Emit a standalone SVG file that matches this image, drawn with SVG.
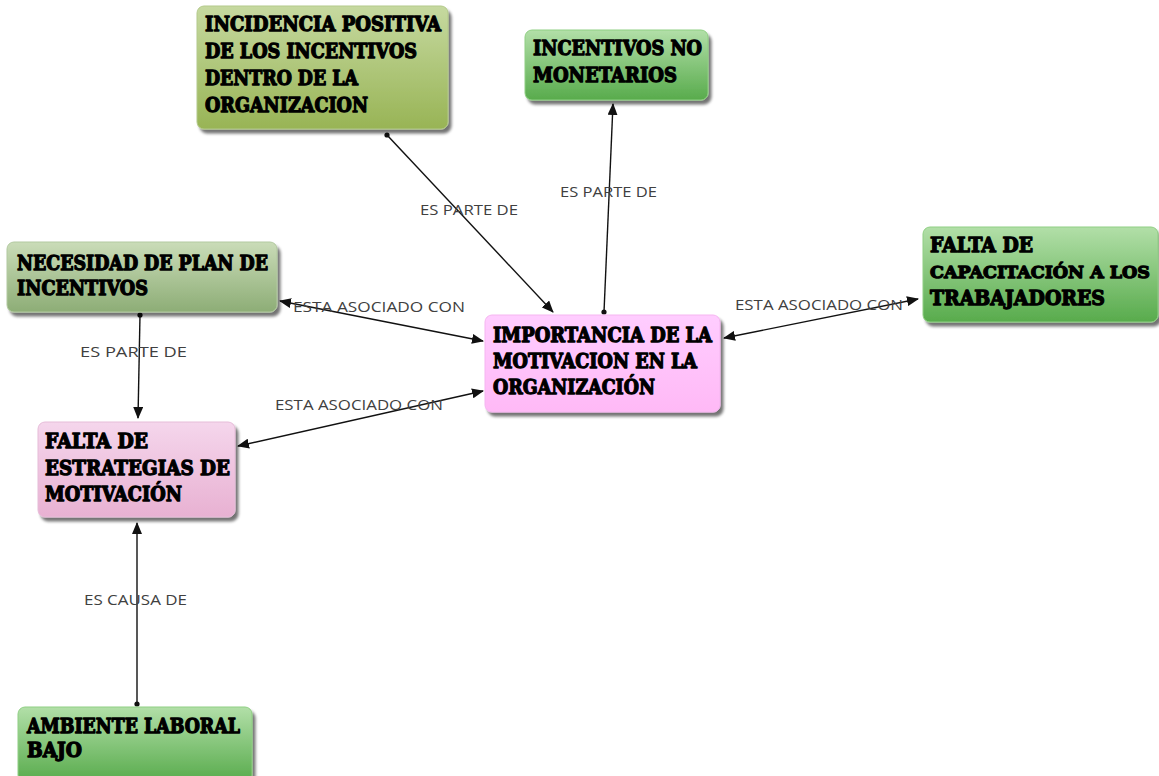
<svg xmlns="http://www.w3.org/2000/svg" width="1159" height="776" viewBox="0 0 1159 776">
  <style>
    .box { stroke-width: 1; }
    .t { font-family: "DejaVu Serif", "Liberation Serif", serif; font-weight: bold; font-size: 20px; fill: #000; stroke: #000; stroke-width: 1.3; stroke-linejoin: round; }
    .t.narrow { font-size: 17.5px; }
    .lbl { font-family: "Open Sans", "DejaVu Sans", sans-serif; font-size: 14px; fill: #404040; }
    .con { stroke: #111; stroke-width: 1.4; fill: none; }
  </style>
  <defs>
    <linearGradient id="gOlive" x1="0" y1="0" x2="0" y2="1">
      <stop offset="0" stop-color="#c6d9a0"/>
      <stop offset="1" stop-color="#98b455"/>
    </linearGradient>
    <linearGradient id="gGreen" x1="0" y1="0" x2="0" y2="1">
      <stop offset="0" stop-color="#b2dfa8"/>
      <stop offset="1" stop-color="#58ab4c"/>
    </linearGradient>
    <linearGradient id="gSage" x1="0" y1="0" x2="0" y2="1">
      <stop offset="0" stop-color="#cadcb8"/>
      <stop offset="1" stop-color="#8dad76"/>
    </linearGradient>
    <linearGradient id="gPink" x1="0" y1="0" x2="0" y2="1">
      <stop offset="0" stop-color="#ffcdff"/>
      <stop offset="1" stop-color="#ffb9f6"/>
    </linearGradient>
    <linearGradient id="gRose" x1="0" y1="0" x2="0" y2="1">
      <stop offset="0" stop-color="#f5d6ec"/>
      <stop offset="1" stop-color="#e8b1d2"/>
    </linearGradient>
    <filter id="shadow" x="-10%" y="-10%" width="130%" height="140%">
      <feGaussianBlur in="SourceAlpha" stdDeviation="1.5"/>
      <feOffset dx="3" dy="4" result="b"/>
      <feComponentTransfer><feFuncA type="linear" slope="0.55"/></feComponentTransfer>
      <feMerge><feMergeNode/><feMergeNode in="SourceGraphic"/></feMerge>
    </filter>
    <marker id="arrow" viewBox="0 0 12 10" refX="11" refY="5" markerWidth="12" markerHeight="10" markerUnits="userSpaceOnUse" orient="auto-start-reverse">
      <path d="M0,0 L12,5 L0,10 Z" fill="#111"/>
    </marker>
    <marker id="dot" viewBox="0 0 6 6" refX="3" refY="3" markerWidth="6" markerHeight="6" markerUnits="userSpaceOnUse">
      <circle cx="3" cy="3" r="2.6" fill="#111"/>
    </marker>
  </defs>

  <rect width="1159" height="776" fill="#ffffff"/>

  <!-- connectors -->
  <g id="connectors">
    <line class="con" x1="387" y1="135" x2="553" y2="312" marker-start="url(#dot)" marker-end="url(#arrow)"/>
    <line class="con" x1="604" y1="312" x2="613" y2="104" marker-start="url(#dot)" marker-end="url(#arrow)"/>
    <line class="con" x1="280" y1="301" x2="483" y2="341" marker-start="url(#arrow)" marker-end="url(#arrow)"/>
    <line class="con" x1="238" y1="446" x2="483" y2="391" marker-start="url(#arrow)" marker-end="url(#arrow)"/>
    <line class="con" x1="724" y1="338" x2="918" y2="299" marker-start="url(#arrow)" marker-end="url(#arrow)"/>
    <line class="con" x1="140" y1="315" x2="138" y2="418" marker-start="url(#dot)" marker-end="url(#arrow)"/>
    <line class="con" x1="137" y1="704" x2="137" y2="523" marker-start="url(#dot)" marker-end="url(#arrow)"/>

    <text class="lbl" x="420" y="215" textLength="98" lengthAdjust="spacingAndGlyphs">ES PARTE DE</text>
    <text class="lbl" x="560" y="197" textLength="97" lengthAdjust="spacingAndGlyphs">ES PARTE DE</text>
    <text class="lbl" x="293" y="312" textLength="172" lengthAdjust="spacingAndGlyphs">ESTA ASOCIADO CON</text>
    <text class="lbl" x="275" y="410" textLength="168" lengthAdjust="spacingAndGlyphs">ESTA ASOCIADO CON</text>
    <text class="lbl" x="735" y="310" textLength="168" lengthAdjust="spacingAndGlyphs">ESTA ASOCIADO CON</text>
    <text class="lbl" x="80" y="357" textLength="107" lengthAdjust="spacingAndGlyphs">ES PARTE DE</text>
    <text class="lbl" x="84" y="605" textLength="103" lengthAdjust="spacingAndGlyphs">ES CAUSA DE</text>
  </g>

  <g id="incidencia">
    <rect class="box" x="197" y="6" width="251" height="123" rx="7" fill="url(#gOlive)" stroke="#b3c98a" filter="url(#shadow)"/>
    <text class="t" x="205" y="31" textLength="236" lengthAdjust="spacingAndGlyphs">INCIDENCIA POSITIVA</text>
    <text class="t" x="205" y="58" textLength="212" lengthAdjust="spacingAndGlyphs">DE LOS INCENTIVOS</text>
    <text class="t" x="205" y="85" textLength="153" lengthAdjust="spacingAndGlyphs">DENTRO DE LA</text>
    <text class="t" x="205" y="112" textLength="163" lengthAdjust="spacingAndGlyphs">ORGANIZACION</text>
  </g>

  <g id="incentivos-no-monetarios">
    <rect class="box" x="525" y="30" width="183" height="70" rx="7" fill="url(#gGreen)" stroke="#8fcf83" filter="url(#shadow)"/>
    <text class="t" x="533" y="55" textLength="169" lengthAdjust="spacingAndGlyphs">INCENTIVOS NO</text>
    <text class="t" x="533" y="82" textLength="144" lengthAdjust="spacingAndGlyphs">MONETARIOS</text>
  </g>

  <g id="necesidad">
    <rect class="box" x="7" y="242" width="270" height="70" rx="7" fill="url(#gSage)" stroke="#b2c9a0" filter="url(#shadow)"/>
    <text class="t" x="17" y="270" textLength="251" lengthAdjust="spacingAndGlyphs">NECESIDAD DE PLAN DE</text>
    <text class="t" x="17" y="295" textLength="131" lengthAdjust="spacingAndGlyphs">INCENTIVOS</text>
  </g>

  <g id="importancia">
    <rect class="box" x="485" y="315" width="235" height="97" rx="7" fill="url(#gPink)" stroke="#f5b6f0" filter="url(#shadow)"/>
    <text class="t" x="493" y="342" textLength="219" lengthAdjust="spacingAndGlyphs">IMPORTANCIA DE LA</text>
    <text class="t" x="493" y="368" textLength="204" lengthAdjust="spacingAndGlyphs">MOTIVACION EN LA</text>
    <text class="t" x="493" y="394" textLength="162" lengthAdjust="spacingAndGlyphs">ORGANIZACIÓN</text>
  </g>

  <g id="falta-capacitacion">
    <rect class="box" x="923" y="227" width="235" height="95" rx="7" fill="url(#gGreen)" stroke="#8fcf83" filter="url(#shadow)"/>
    <text class="t" x="930" y="252" textLength="103" lengthAdjust="spacingAndGlyphs">FALTA DE</text>
    <text class="t narrow" x="930" y="278" textLength="220" lengthAdjust="spacingAndGlyphs">CAPACITACIÓN A LOS</text>
    <text class="t" x="930" y="305" textLength="175" lengthAdjust="spacingAndGlyphs">TRABAJADORES</text>
  </g>

  <g id="falta-estrategias">
    <rect class="box" x="38" y="422" width="197" height="95" rx="7" fill="url(#gRose)" stroke="#e6bcd8" filter="url(#shadow)"/>
    <text class="t" x="45" y="448" textLength="103" lengthAdjust="spacingAndGlyphs">FALTA DE</text>
    <text class="t" x="45" y="475" textLength="185" lengthAdjust="spacingAndGlyphs">ESTRATEGIAS DE</text>
    <text class="t" x="45" y="501" textLength="137" lengthAdjust="spacingAndGlyphs">MOTIVACIÓN</text>
  </g>

  <g id="ambiente-laboral">
    <rect class="box" x="18" y="707" width="234" height="75" rx="7" fill="url(#gGreen)" stroke="#8fcf83" filter="url(#shadow)"/>
    <text class="t" x="27" y="733" textLength="213" lengthAdjust="spacingAndGlyphs">AMBIENTE LABORAL</text>
    <text class="t" x="27" y="757" textLength="55" lengthAdjust="spacingAndGlyphs">BAJO</text>
  </g>
</svg>
